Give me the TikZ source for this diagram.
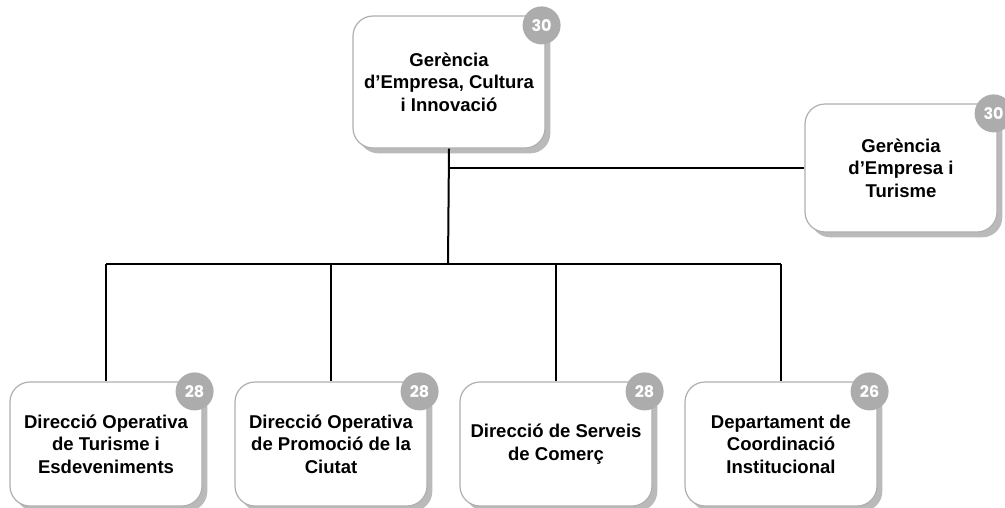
\documentclass[tikz,border=0pt]{standalone}
\usepackage{fontspec}
\setmainfont{Liberation Sans}
\newfontfamily\badgefont{Poppins}
\usepackage{tikz}
\usetikzlibrary{shadows}

\definecolor{boxline}{RGB}{175,175,175}
\definecolor{badgegray}{RGB}{172,172,172}

\begin{document}
\begin{tikzpicture}[x=0.75pt, y=-0.75pt,
    unit/.style={draw=boxline, line width=0.9pt, fill=white, rounded corners=15pt,
        minimum width=144pt, minimum height=96pt, align=center,
        font=\fontsize{13.9}{16.9}\selectfont\bfseries,
        drop shadow={shadow xshift=4pt, shadow yshift=-4pt, opacity=0.45, fill=black!60}},
    badge/.style={circle, fill=badgegray, text=white, inner sep=0pt, minimum size=28.5pt,
        font=\badgefont\fontsize{12}{12}\selectfont\bfseries},
    link/.style={line width=1.5pt, black}]
    \useasboundingbox (0,0) rectangle (1005,507);

    % boxes
    \node[unit, minimum height=99pt] (gerencia) at (449,82) {Gerència\\d’Empresa, Cultura\\i Innovació};
    \node[unit] (turisme) at (901,168) {Gerència\\d’Empresa i\\Turisme};
    \node[unit, minimum height=93pt] (dot) at (106,444) {Direcció Operativa\\de Turisme i\\Esdeveniments};
    \node[unit, minimum height=93pt] (dopc) at (331,444) {Direcció Operativa\\de Promoció de la\\Ciutat};
    \node[unit, minimum height=93pt] (dsc) at (556,444) {Direcció de Serveis\\de Comerç};
    \node[unit, minimum height=93pt] (dci) at (781,444) {Departament de\\Coordinació\\Institucional};

    % badges
    \node[badge] (bgerencia) at ([shift={(-3pt,-7.5pt)}]gerencia.north east) {30};
    \node[badge] (bturisme) at ([shift={(-3pt,-7.5pt)}]turisme.north east) {30};
    \node[badge] (bdot) at ([shift={(-6pt,-7.5pt)}]dot.north east) {28};
    \node[badge] (bdopc) at ([shift={(-6pt,-7.5pt)}]dopc.north east) {28};
    \node[badge] (bdsc) at ([shift={(-6pt,-7.5pt)}]dsc.north east) {28};
    \node[badge] (bdci) at ([shift={(-6pt,-7.5pt)}]dci.north east) {26};

    % connectors
    \coordinate (bus) at (448,264);
    \draw[link] (gerencia.south) -- (bus);
    \draw[black, line width=1pt] (gerencia.south |- turisme.west) -- (turisme.west);
    \draw[link] (dot.north |- bus) -- (dci.north |- bus);
    \foreach \n in {dot, dopc, dsc, dci}
        \draw[link] (\n.north |- bus) -- (\n.north);
\end{tikzpicture}
\end{document}
